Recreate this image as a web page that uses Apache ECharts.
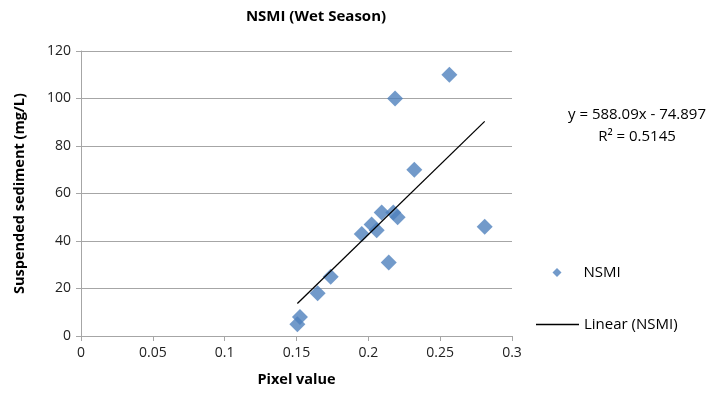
<!DOCTYPE html>
<html>
<head>
<meta charset="utf-8">
<script src="https://cdn.jsdelivr.net/npm/echarts@6/dist/echarts.min.js"></script>
<style>html,body{margin:0;padding:0;background:#fff}#c{width:711px;height:395px}</style>
</head>
<body>
<div id="c"></div>
<script>
const pixelValues = [0.2564, 0.2186, 0.232, 0.2093, 0.2174, 0.2204, 0.2023, 0.2058, 0.1954, 0.281, 0.2142, 0.1738, 0.1647, 0.1524, 0.1506];
const sediment    = [110,    100,    70,    52,     52,     50,     47,     44.5,   43,     46,    31,     25,     18,     8,      5];
const slope = 588.09;
const intercept = -74.897;
const equationText = 'y = 588.09x - 74.897';
const r2Text = 'R² = 0.5145';

const pts = pixelValues.map((x, i) => [x, sediment[i]]);
const xmin = Math.min(...pixelValues), xmax = Math.max(...pixelValues);
const trend = [[xmin, slope * xmin + intercept], [xmax, slope * xmax + intercept]];

const FONT = 'Open Sans';
const chart = echarts.init(document.getElementById('c'));
chart.setOption({
  animation: false,
  textStyle: { fontFamily: FONT },
  title: {
    text: 'NSMI (Wet Season)', left: 316, top: 9, textAlign: 'center', padding: 0,
    textStyle: { fontSize: 15, fontWeight: 'bold', color: '#000', fontFamily: FONT }
  },
  grid: { left: 81, right: 199, top: 51, bottom: 59, containLabel: false },
  xAxis: {
    type: 'value', min: 0, max: 0.3, interval: 0.05,
    name: 'Pixel value', nameLocation: 'middle', nameGap: 36,
    nameTextStyle: { fontSize: 14.5, fontWeight: 'bold', color: '#000' },
    axisLine: { show: true, lineStyle: { color: '#a6a6a6', width: 1 } },
    axisTick: { show: true, length: 5, lineStyle: { color: '#a6a6a6' } },
    axisLabel: { fontSize: 14, color: '#222', margin: 10, formatter: v => String(+v.toFixed(2)) },
    splitLine: { show: false }
  },
  yAxis: {
    type: 'value', min: 0, max: 120, interval: 20,
    name: 'Suspended sediment (mg/L)', nameLocation: 'middle', nameGap: 54, nameRotate: 90,
    nameTextStyle: { fontSize: 14.5, fontWeight: 'bold', color: '#000' },
    axisLine: { show: true, lineStyle: { color: '#a6a6a6', width: 1 } },
    axisTick: { show: true, length: 5, lineStyle: { color: '#a6a6a6' } },
    axisLabel: { fontSize: 14, color: '#222', margin: 10 },
    splitLine: { show: true, lineStyle: { color: '#a6a6a6', width: 1.2 } }
  },
  legend: [
    {
      data: [{ name: 'NSMI', icon: 'diamond' }], left: 552.5, top: 265, padding: 0,
      itemWidth: 9, itemHeight: 9,
      textStyle: { fontSize: 15, color: '#000', padding: [0, 0, 0, 17] }
    },
    {
      data: [{ name: 'Linear (NSMI)', icon: 'path://M0,0 L43,0 L43,1.5 L0,1.5 Z' }], left: 536, top: 317, padding: 0,
      itemWidth: 43, itemHeight: 1.5,
      textStyle: { fontSize: 15, color: '#000', padding: [0, 0, 0, 0] }
    }
  ],
  graphic: [
    { type: 'text', x: 637, y: 115, style: { text: equationText, fontSize: 15, fontFamily: FONT, fill: '#000', align: 'center', verticalAlign: 'middle' } },
    { type: 'text', x: 637, y: 137, style: { text: r2Text, fontSize: 15, fontFamily: FONT, fill: '#000', align: 'center', verticalAlign: 'middle' } }
  ],
  series: [
    {
      name: 'NSMI', type: 'scatter', data: pts, symbol: 'diamond', symbolSize: 16,
      itemStyle: { color: '#4f81bd' }, z: 3
    },
    {
      name: 'Linear (NSMI)', type: 'line', data: trend, symbol: 'none',
      lineStyle: { color: '#000', width: 1.3 }, itemStyle: { color: '#000' }, z: 4
    }
  ]
});
</script>
</body>
</html>
